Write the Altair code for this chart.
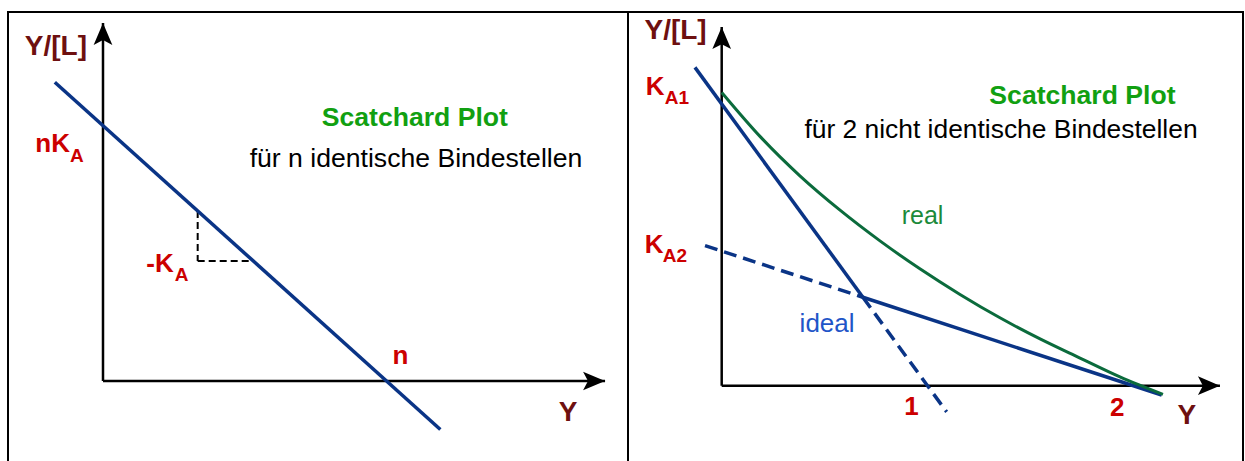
import altair as alt
import pandas as pd

FONT = "Liberation Sans"
MAROON = "#6e1010"
RED = "#cc0000"
TITLE_GREEN = "#11a011"
REAL_GREEN = "#1b8a3a"
CURVE_GREEN = "#0b6b3c"
NAVY = "#0a3486"
IDEAL_BLUE = "#1f56c8"

# ---- left panel: n identical binding sites ----
L_N = 1.0                 # x-intercept n
L_NKA = 1.0               # y-intercept nK_A
L_LINE_X = [-0.17, 1.19]  # extent of the Scatchard line
L_TRI = [0.334, 0.470]    # corner of the slope triangle (-K_A)
L_Y_TIP = 1.402
L_X_TIP = 1.771
L_XDOM = [-0.3351, 1.8519]
L_YDOM = [-0.3211, 1.4448]

# ---- right panel: 2 non-identical binding sites ----
R_KA1 = 1.0
R_KA2 = 0.478
R_N1 = 1.0
R_N2 = 2.0
R_LINE1_X = [-0.13, 1.093]
R_LINE2_X = [-0.081, 2.138]
R_REAL_X = [0.0, 0.186, 0.380, 0.575, 0.769, 0.963, 1.158, 1.352,
            1.547, 1.741, 1.935, 2.144]
R_REAL_Y = [1.041, 0.885, 0.745, 0.623, 0.514, 0.415, 0.324, 0.241,
            0.166, 0.098, 0.031, -0.031]
R_Y_TIP = 1.273
R_X_TIP = 2.421
R_XDOM = [-0.4553, 2.533]
R_YDOM = [-0.2744, 1.3266]

ARROW = "M0,0L0.85,2L0,1.55L-0.85,2Z"


def enc(xdom, ydom):
    return dict(
        x=alt.X("x:Q", scale=alt.Scale(domain=xdom, nice=False, zero=False), axis=None),
        y=alt.Y("y:Q", scale=alt.Scale(domain=ydom, nice=False, zero=False), axis=None),
    )


def segments(rows, xdom, ydom, color, width, dash=None):
    df = pd.DataFrame(rows, columns=["x", "y", "x2", "y2"])
    kw = dict(color=color, strokeWidth=width, strokeCap="butt")
    if dash:
        kw["strokeDash"] = dash
    return alt.Chart(df).mark_rule(**kw).encode(
        **enc(xdom, ydom), x2="x2:Q", y2="y2:Q")


def arrow(x, y, angle, xdom, ydom):
    df = pd.DataFrame({"x": [x], "y": [y]})
    return alt.Chart(df).mark_point(
        shape=ARROW, filled=True, color="black", size=484, angle=angle,
        opacity=1, strokeWidth=0).encode(**enc(xdom, ydom))


def label(text, x, y, xdom, ydom, color, size, dx=0, dy=0, align="left", bold=True):
    df = pd.DataFrame({"x": [x], "y": [y], "t": [text]})
    return alt.Chart(df).mark_text(
        align=align, baseline="alphabetic", dx=dx, dy=dy, color=color,
        fontSize=size, fontWeight="bold" if bold else "normal", font=FONT,
    ).encode(**enc(xdom, ydom), text="t:N")


def axes(x_tip, y_tip, xdom, ydom):
    return [
        segments([[0, 0, 0, y_tip], [0, 0, x_tip, 0]], xdom, ydom, "black", 2.5),
        arrow(0, y_tip, 0, xdom, ydom),
        arrow(x_tip, 0, 90, xdom, ydom),
    ]


# ---------- left ----------
def line_left(x):
    return L_NKA * (1 - x / L_N)

tx, ty = L_TRI
left_layers = axes(L_X_TIP, L_Y_TIP, L_XDOM, L_YDOM) + [
    segments([[tx, line_left(tx), tx, ty],
              [tx, ty, L_N * (1 - ty / L_NKA), ty]],
             L_XDOM, L_YDOM, "black", 2, [7, 4]),
    segments([[L_LINE_X[0], line_left(L_LINE_X[0]), L_LINE_X[1], line_left(L_LINE_X[1])]],
             L_XDOM, L_YDOM, NAVY, 3.5),
    label("Y/[L]", 0, L_Y_TIP, L_XDOM, L_YDOM, MAROON, 28, dx=-16, dy=32, align="right"),
    label("nK", 0, L_NKA, L_XDOM, L_YDOM, RED, 26, dx=-33, dy=26, align="right"),
    label("A", 0, L_NKA, L_XDOM, L_YDOM, RED, 19, dx=-33, dy=36),
    label("-K", tx, ty, L_XDOM, L_YDOM, RED, 26, dx=-24, dy=11, align="right"),
    label("A", tx, ty, L_XDOM, L_YDOM, RED, 19, dx=-23, dy=20),
    label("n", L_N, 0, L_XDOM, L_YDOM, RED, 26, dx=6, dy=-17),
    label("Y", L_X_TIP, 0, L_XDOM, L_YDOM, MAROON, 28, dx=-37, dy=40, align="center"),
    label("Scatchard Plot", 1.1, 1.0, L_XDOM, L_YDOM, TITLE_GREEN, 26.6, align="center"),
    label("für n identische Bindestellen", 1.104, 0.836, L_XDOM, L_YDOM, "black", 26.6,
          align="center", bold=False),
]
left = alt.layer(*left_layers).properties(width=620, height=451)


# ---------- right ----------
def line1(x):
    return R_KA1 * (1 - x / R_N1)

def line2(x):
    return R_KA2 * (1 - x / R_N2)

# where the two single-site lines cross
xc = (R_KA1 - R_KA2) / (R_KA1 / R_N1 - R_KA2 / R_N2)

real_df = pd.DataFrame({"x": R_REAL_X, "y": R_REAL_Y})

right_layers = axes(R_X_TIP, R_Y_TIP, R_XDOM, R_YDOM) + [
    segments([[R_LINE1_X[0], line1(R_LINE1_X[0]), xc, line1(xc)],
              [xc, line2(xc), R_LINE2_X[1], line2(R_LINE2_X[1])]],
             R_XDOM, R_YDOM, NAVY, 3.5),
    segments([[xc, line1(xc), R_LINE1_X[1], line1(R_LINE1_X[1])],
              [R_LINE2_X[0], line2(R_LINE2_X[0]), xc, line2(xc)]],
             R_XDOM, R_YDOM, NAVY, 3.5, [13, 7]),
    alt.Chart(real_df).mark_line(color=CURVE_GREEN, strokeWidth=3, interpolate="monotone")
    .encode(**enc(R_XDOM, R_YDOM)),
    label("Y/[L]", 0, R_Y_TIP, R_XDOM, R_YDOM, MAROON, 28, dx=-15, dy=12, align="right"),
    label("K", 0, R_KA1, R_XDOM, R_YDOM, RED, 26, dx=-76, dy=-9),
    label("A1", 0, R_KA1, R_XDOM, R_YDOM, RED, 19, dx=-57, dy=0),
    label("K", 0, R_KA2, R_XDOM, R_YDOM, RED, 26, dx=-77, dy=2),
    label("A2", 0, R_KA2, R_XDOM, R_YDOM, RED, 19, dx=-59, dy=11),
    label("1", R_N1, 0, R_XDOM, R_YDOM, RED, 26, dx=-16, dy=29, align="center"),
    label("2", R_N2, 0, R_XDOM, R_YDOM, RED, 26, dx=-16, dy=30, align="center"),
    label("Y", R_X_TIP, 0, R_XDOM, R_YDOM, MAROON, 28, dx=-33, dy=38, align="center"),
    label("Scatchard Plot", 1.753, 1.0, R_XDOM, R_YDOM, TITLE_GREEN, 26.6, align="center"),
    label("für 2 nicht identische Bindestellen", 1.357, 0.878, R_XDOM, R_YDOM, "black", 26.4,
          align="center", bold=False),
    label("real", 0.976, 0.573, R_XDOM, R_YDOM, REAL_GREEN, 25, align="center", bold=False),
    label("ideal", 0.512, 0.192, R_XDOM, R_YDOM, IDEAL_BLUE, 26, align="center", bold=False),
]
right = alt.layer(*right_layers).properties(width=615, height=451)

chart = (
    alt.hconcat(left, right, spacing=0, bounds="flush")
    .configure_view(stroke="black", strokeWidth=2)
    .properties(padding={"left": 7, "top": 11, "right": 1, "bottom": 0},
                background="white")
)

chart.save("out.html", embed_options={"renderer": "svg", "actions": False})
